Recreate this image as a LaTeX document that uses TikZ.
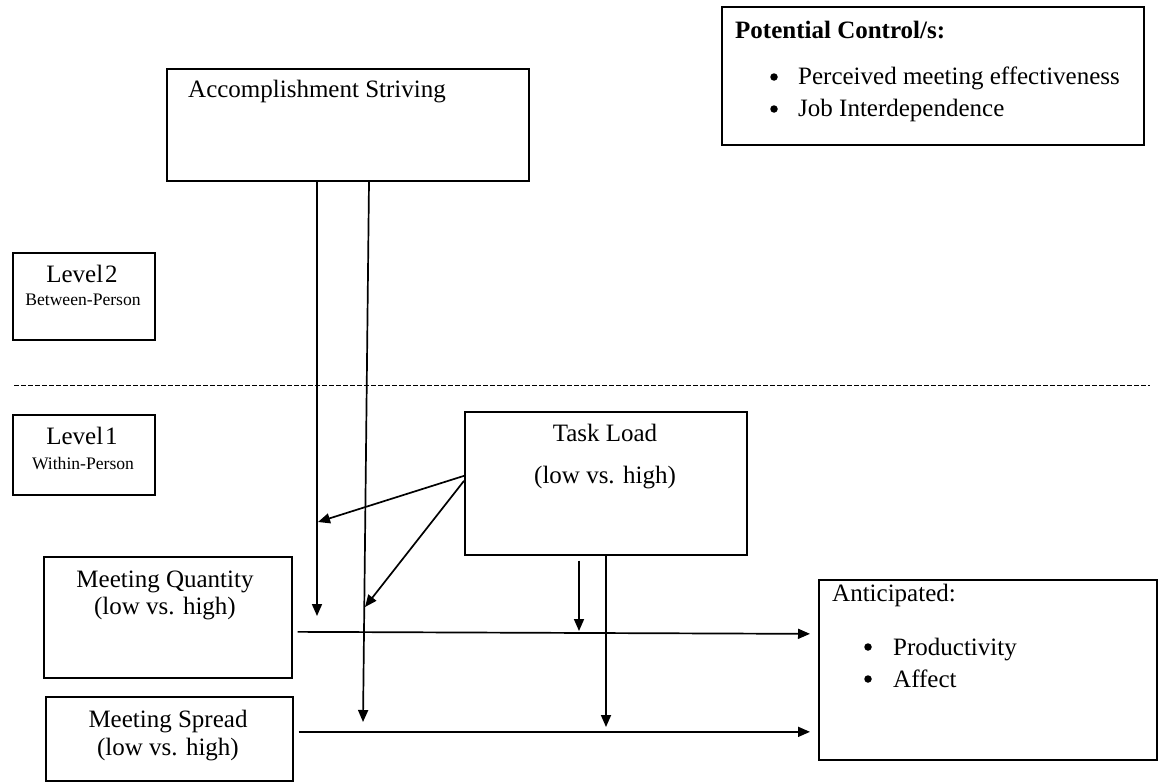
\documentclass[tikz,border=0pt]{standalone}
\usepackage{fontspec}
\setmainfont{Liberation Serif}
\usetikzlibrary{arrows.meta,calc}
\begin{document}
\begin{tikzpicture}[x=1pt,y=-1pt,
  box/.style={draw, line width=1.7pt, inner sep=0pt, anchor=north west},
  txt/.style={font=\fontsize{25}{29}\selectfont, inner sep=0pt, anchor=base},
  txtw/.style={font=\fontsize{25}{29}\selectfont, inner sep=0pt, anchor=base west},
  sm/.style={font=\fontsize{17.6}{20}\selectfont, inner sep=0pt, anchor=base},
  dot/.style={circle, fill, inner sep=0pt, minimum size=7.5pt},
  arr/.style={line width=1.7pt, -{Triangle[length=12pt,width=10pt]}},
  sep/.style={line width=0.8pt, dash pattern=on 5pt off 2pt}]
\useasboundingbox (0,0) rectangle (1159,782);

% boxes
\node[box, minimum width=422pt, minimum height=138pt] (ctrl) at (721,6) {};
\node[box, minimum width=362pt, minimum height=112pt] (acc) at (166,68) {};
\node[box, minimum width=142pt, minimum height=87pt] (lvl2) at (12,252) {};
\node[box, minimum width=142pt, minimum height=80pt] (lvl1) at (12,414) {};
\node[box, minimum width=282pt, minimum height=143pt] (task) at (464,411) {};
\node[box, minimum width=248pt, minimum height=121pt] (mq) at (43,556) {};
\node[box, minimum width=247pt, minimum height=84pt] (ms) at (45,696) {};
\node[box, minimum width=338pt, minimum height=180pt] (ant) at (818,579) {};

% texts
\node[txtw, font=\fontsize{25}{29}\selectfont\bfseries] (ctrlT) at (735,38) {Potential Control/s:};
\node[dot] (b1) at (774,77) {};
\node[txtw] (c1) at (798,84) {Perceived meeting effectiveness};
\node[dot] (b2) at (774,109) {};
\node[txtw] (c2) at (798,116) {Job Interdependence};

\node[txtw] (accT) at (188,97) {Accomplishment Striving};

\node[txt] (l2a) at (82,282) {Level\kern2pt2};
\node[sm] (l2b) at (83,305) {Between-Person};
\node[txt] (l1a) at (82,444) {Level\kern2pt1};
\node[sm] (l1b) at (83,469) {Within-Person};

\node[txt] (tlA) at (605,441) {Task Load};
\node[txt] (tlB) at (605,483) {(low vs. high)};

\node[txt] (mqA) at (165,587) {Meeting Quantity};
\node[txt] (mqB) at (165,614) {(low vs. high)};
\node[txt] (msA) at (168,727) {Meeting Spread};
\node[txt] (msB) at (168,755) {(low vs. high)};

\node[txtw] (antT) at (832,601) {Anticipated:};
\node[dot] (b3) at (868,647) {};
\node[txtw] (a1) at (893,655) {Productivity};
\node[dot] (b4) at (868,679) {};
\node[txtw] (a2) at (893,687) {Affect};

% separator
\coordinate (sepL) at (14,385);
\coordinate (sepR) at (1150,385);
\draw[sep] (sepL) -- (sepR);

% tip coordinates
\coordinate (t1) at (317,616);
\coordinate (t2) at (363,722);
\coordinate (t3) at (318,522);
\coordinate (t4) at (365,607);
\coordinate (t5) at (579,631);
\coordinate (t6) at (606,727);

% connectors from Accomplishment Striving
\draw[arr] ($(acc.south west)+(151,0)$) -- (t1);
\draw[arr] ($(acc.south west)+(203,0)$) -- (t2);

% connectors from Task Load
\draw[arr] ($(task.west)+(0,-7.5)$) -- (t3);
\draw[arr] ($(task.west)+(0,-2.5)$) -- (t4);
\draw[arr] ($(task.south west)+(115,5)$) -- (t5);
\draw[arr] ($(task.south west)+(142,0)$) -- (t6);

% main paths
\draw[arr] ($(mq.east)+(5,14.5)$) -- ($(ant.west)+(-8,-36)$);
\draw[arr] ($(ms.east)+(5,-7)$) -- ($(ant.west)+(-8,62)$);
\end{tikzpicture}
\end{document}
